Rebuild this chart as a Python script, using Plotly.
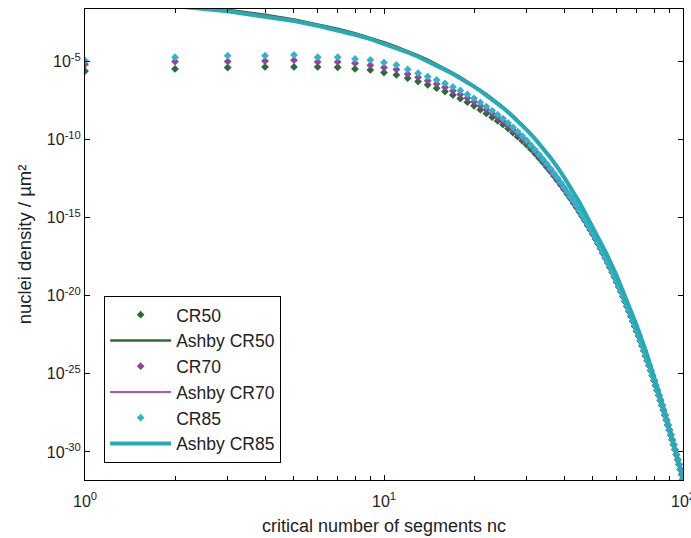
import plotly.graph_objects as go

# ---------------- data (log10 of nuclei density) ----------------
n_points = list(range(1, 101))

cr85_exp = [-4.94, -4.72, -4.62, -4.62, -4.57, -4.72, -4.72, -4.83, -4.89, -5.05,
            -5.21, -5.50, -5.74, -5.96, -6.17, -6.40, -6.62, -6.85, -7.10, -7.35,
            -7.62, -7.88, -8.14, -8.40, -8.65, -8.93, -9.21, -9.49, -9.77, -10.05,
            -10.35, -10.65, -10.95, -11.25, -11.55, -11.85, -12.15, -12.45, -12.75, -13.05,
            -13.35, -13.64, -13.94, -14.23, -14.53, -14.82, -15.12, -15.41, -15.71, -16.00,
            -16.30, -16.61, -16.91, -17.22, -17.52, -17.83, -18.13, -18.44, -18.74, -19.05,
            -19.37, -19.68, -20.00, -20.32, -20.64, -20.95, -21.27, -21.59, -21.90, -22.22,
            -22.54, -22.86, -23.17, -23.49, -23.81, -24.13, -24.44, -24.76, -25.08, -25.40,
            -25.72, -26.03, -26.35, -26.67, -26.99, -27.30, -27.62, -27.94, -28.25, -28.57,
            -28.89, -29.21, -29.52, -29.84, -30.16, -30.48, -30.79, -31.11, -31.43, -31.75]

cr70_exp = [-5.17, -5.00, -5.00, -4.96, -4.91, -5.02, -5.02, -5.10, -5.23, -5.38,
            -5.50, -5.80, -6.00, -6.22, -6.43, -6.65, -6.87, -7.10, -7.33, -7.57,
            -7.83, -8.08, -8.33, -8.58, -8.82, -9.09, -9.36, -9.63, -9.90, -10.17,
            -10.46, -10.76, -11.05, -11.35, -11.64, -11.94, -12.23, -12.53, -12.82, -13.12,
            -13.41, -13.70, -13.99, -14.28, -14.58, -14.86, -15.16, -15.45, -15.74, -16.03,
            -16.33, -16.64, -16.94, -17.25, -17.55, -17.86, -18.16, -18.47, -18.77, -19.08,
            -19.40, -19.71, -20.03, -20.35, -20.67, -20.98, -21.30, -21.62, -21.93, -22.25,
            -22.56, -22.88, -23.19, -23.51, -23.83, -24.15, -24.46, -24.78, -25.10, -25.42,
            -25.74, -26.05, -26.37, -26.69, -27.01, -27.32, -27.64, -27.96, -28.27, -28.59,
            -28.90, -29.22, -29.53, -29.85, -30.17, -30.49, -30.80, -31.12, -31.44, -31.75]

cr50_exp = [-5.60, -5.47, -5.38, -5.34, -5.34, -5.34, -5.36, -5.47, -5.53, -5.70,
            -5.85, -6.06, -6.28, -6.49, -6.70, -6.92, -7.14, -7.37, -7.60, -7.83,
            -8.08, -8.32, -8.56, -8.80, -9.03, -9.29, -9.55, -9.81, -10.07, -10.33,
            -10.61, -10.89, -11.18, -11.46, -11.75, -12.03, -12.32, -12.61, -12.90, -13.19,
            -13.48, -13.76, -14.05, -14.33, -14.63, -14.91, -15.20, -15.49, -15.78, -16.07,
            -16.36, -16.67, -16.97, -17.28, -17.58, -17.89, -18.19, -18.50, -18.80, -19.11,
            -19.43, -19.74, -20.06, -20.38, -20.70, -21.01, -21.33, -21.65, -21.96, -22.28,
            -22.58, -22.90, -23.21, -23.53, -23.85, -24.17, -24.48, -24.80, -25.12, -25.44,
            -25.76, -26.07, -26.39, -26.71, -27.03, -27.34, -27.66, -27.98, -28.29, -28.61,
            -28.91, -29.23, -29.54, -29.86, -30.18, -30.50, -30.81, -31.13, -31.45, -31.75]

n_line = [1, 2, 3, 4, 5, 6, 7, 8, 9, 10,
          11, 12, 13, 14, 15, 16, 17, 18, 19, 20,
          21, 22, 23, 24, 25, 26, 27, 28, 29, 30,
          32, 34, 36, 38, 40, 45, 50, 55, 60, 65, 70, 75, 80, 85, 90, 95, 100]
ashby85_exp = [-1.15, -1.45, -1.78, -2.10, -2.40, -2.70, -3.00, -3.28, -3.56, -3.85,
               -4.13, -4.41, -4.69, -4.97, -5.25, -5.53, -5.80, -6.07, -6.34, -6.60,
               -6.88, -7.15, -7.42, -7.69, -7.96, -8.24, -8.52, -8.80, -9.08, -9.37,
               -9.95, -10.54, -11.14, -11.76, -12.40, -14.00, -15.60, -17.15, -18.70, -20.30,
               -21.90, -23.50, -25.15, -26.80, -28.45, -30.10, -31.75]
ashby70_exp = [-1.10, -1.40, -1.73, -2.05, -2.35, -2.65, -2.95, -3.23, -3.51, -3.80,
               -4.09, -4.37, -4.65, -4.93, -5.21, -5.49, -5.76, -6.03, -6.31, -6.57,
               -6.85, -7.12, -7.39, -7.66, -7.93, -8.21, -8.50, -8.78, -9.06, -9.35,
               -9.93, -10.52, -11.13, -11.75, -12.39, -14.00, -15.60, -17.15, -18.70, -20.30,
               -21.90, -23.50, -25.15, -26.80, -28.45, -30.10, -31.75]
ashby50_exp = [-1.05, -1.35, -1.68, -2.00, -2.30, -2.60, -2.90, -3.18, -3.46, -3.75,
               -4.04, -4.32, -4.60, -4.88, -5.17, -5.45, -5.72, -5.99, -6.27, -6.53,
               -6.81, -7.08, -7.36, -7.63, -7.90, -8.18, -8.47, -8.75, -9.03, -9.32,
               -9.91, -10.50, -11.11, -11.73, -12.38, -13.99, -15.60, -17.15, -18.70, -20.30,
               -21.90, -23.50, -25.15, -26.80, -28.45, -30.10, -31.75]

y_tick_exps = [-30, -25, -20, -15, -10, -5]
x_tick_exps = [0, 1, 2]

# ---------------- styles ----------------
GREEN = "#256f33"
GREEN_LINE = "#2d6b38"
MAGENTA = "#9c3f9c"
MAGENTA_LINE = "#b355b3"
CYAN = "#2fb4c8"
CYAN_LINE = "#26aab4"
FAMILY = "Liberation Sans, Arial, sans-serif"


def pw(vals):
    return [10 ** v for v in vals]


fig = go.Figure()
fig.add_trace(go.Scatter(x=n_points, y=pw(cr50_exp), mode="markers", name="CR50",
                         marker=dict(symbol="diamond", size=6, color=GREEN)))
fig.add_trace(go.Scatter(x=n_line, y=pw(ashby50_exp), mode="lines", name="Ashby CR50",
                         line=dict(color=GREEN_LINE, width=2.5)))
fig.add_trace(go.Scatter(x=n_points, y=pw(cr70_exp), mode="markers", name="CR70",
                         marker=dict(symbol="diamond", size=6, color=MAGENTA)))
fig.add_trace(go.Scatter(x=n_line, y=pw(ashby70_exp), mode="lines", name="Ashby CR70",
                         line=dict(color=MAGENTA_LINE, width=2)))
fig.add_trace(go.Scatter(x=n_points, y=pw(cr85_exp), mode="markers", name="CR85",
                         marker=dict(symbol="diamond", size=6, color=CYAN)))
fig.add_trace(go.Scatter(x=n_line, y=pw(ashby85_exp), mode="lines", name="Ashby CR85",
                         line=dict(color=CYAN_LINE, width=4)))

fig.update_layout(
    width=691, height=538,
    margin=dict(l=85, r=8, t=9, b=58),
    paper_bgcolor="white", plot_bgcolor="white",
    font=dict(family=FAMILY, size=15, color="#222"),
    showlegend=True,
    legend=dict(x=0.032, y=0.391, xanchor="left", yanchor="top",
                bgcolor="white", bordercolor="black", borderwidth=1,
                font=dict(family=FAMILY, size=17.5, color="#222"),
                tracegroupgap=0, itemwidth=61),
)

fig.update_xaxes(
    type="log", range=[0, 2], automargin=False,
    tickmode="array", tickvals=[10 ** e for e in x_tick_exps],
    ticktext=[f"10<sup>{e}</sup>" for e in x_tick_exps],
    ticks="inside", ticklen=5, tickcolor="black",
    ticklabelstandoff=7, ticklabeloverflow="allow",
    showline=True, linecolor="black", linewidth=1, mirror="allticks",
    showgrid=False, zeroline=False,
    minor=dict(tickmode="array",
               tickvals=[m * 10 ** d for d in (0, 1) for m in range(2, 10)],
               ticks="inside", ticklen=4, tickcolor="black", showgrid=False),
    title=dict(text="critical number of segments nc", standoff=10,
               font=dict(family=FAMILY, size=18)),
    tickfont=dict(family=FAMILY, size=16),
)
fig.update_yaxes(
    type="log", range=[-31.8, -1.63], automargin=False,
    tickmode="array", tickvals=[10 ** e for e in y_tick_exps],
    ticktext=[f"10<sup>{e}</sup>" for e in y_tick_exps],
    ticks="inside", ticklen=5, tickcolor="black",
    showline=True, linecolor="black", linewidth=1, mirror="allticks",
    showgrid=False, zeroline=False,
    title=dict(text="nuclei density / µm²", standoff=10,
               font=dict(family=FAMILY, size=18.5)),
    tickfont=dict(family=FAMILY, size=16),
)

fig.write_html("out.html")
